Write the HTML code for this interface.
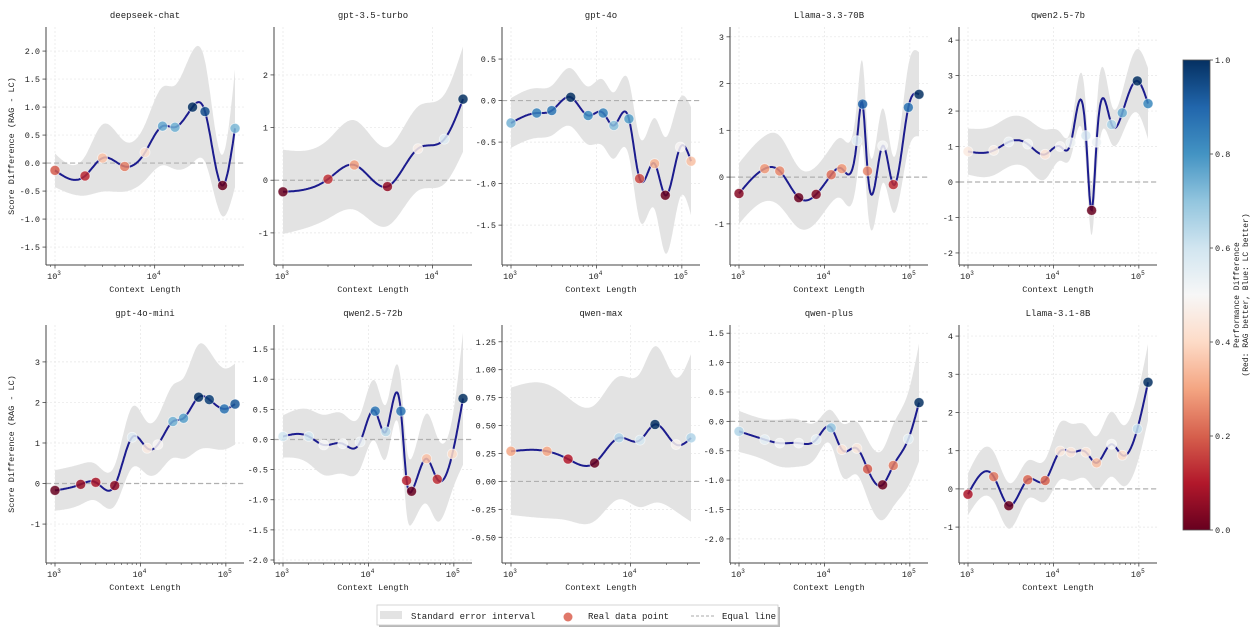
<!DOCTYPE html>
<html><head><meta charset="utf-8">
<style>
html,body{margin:0;padding:0;background:#fff;}
svg{display:block;font-family:"Liberation Mono","WenQuanYi Zen Hei",monospace;}
</style></head>
<body>
<svg id="chart" width="1251" height="637" viewBox="0 0 1251 637" xmlns="http://www.w3.org/2000/svg">
<defs>
<linearGradient id="rdbu" x1="0" y1="1" x2="0" y2="0">
<stop offset="0" stop-color="#67001f"/><stop offset="0.1" stop-color="#b2182b"/><stop offset="0.2" stop-color="#d6604d"/><stop offset="0.3" stop-color="#f4a582"/><stop offset="0.4" stop-color="#fddbc7"/><stop offset="0.5" stop-color="#f7f7f7"/><stop offset="0.6" stop-color="#d1e5f0"/><stop offset="0.7" stop-color="#92c5de"/><stop offset="0.8" stop-color="#4393c3"/><stop offset="0.9" stop-color="#2166ac"/><stop offset="1" stop-color="#053061"/>
</linearGradient>
</defs>
<g id="panels"></g>
<g>
<rect x="1183" y="60" width="27" height="470" fill="url(#rdbu)" stroke="#555" stroke-width="0.8"/>
</g>
<g id="cbticks"></g>
<text transform="translate(1239,295) rotate(-90)" text-anchor="middle" font-size="8" fill="#222">Performance Difference</text>
<text transform="translate(1248,295) rotate(-90)" text-anchor="middle" font-size="8" fill="#222">(Red: RAG better, Blue: LC better)</text>
<g>
<rect x="379" y="607" width="401" height="20" fill="#888" opacity="0.6"/>
<rect x="377" y="605" width="401" height="20" fill="#fff" stroke="#ccc" stroke-width="0.8"/>
<rect x="380" y="611" width="22" height="8" fill="#e3e3e3"/>
<text x="411" y="619" font-size="9" fill="#222">Standard error interval</text>
<circle cx="568" cy="617" r="4.5" fill="#e0786a"/>
<text x="588" y="619" font-size="9" fill="#222">Real data point</text>
<line x1="691" y1="616" x2="714" y2="616" stroke="#aaa" stroke-dasharray="3,2"/>
<text x="722" y="619" font-size="9" fill="#222">Equal line</text>
</g>
</svg>
<script>
// ---- data ----
const deepseekX = [1000,2000,3000,5000,8000,12000,16000,24000,32000,48000,64000];
const deepseekY = [-0.13,-0.23,0.09,-0.06,0.19,0.66,0.64,1.0,0.92,-0.4,0.62];
const deepseekErr = [0.3,0.35,0.6,0.45,0.5,0.7,0.75,1.0,0.9,0.55,1.05];

const gpt35X = [1000,2000,3000,5000,8000,12000,16000];
const gpt35Y = [-0.22,0.02,0.29,-0.12,0.6,0.78,1.54];
const gpt35Err = [0.8,0.75,0.85,0.75,0.8,0.85,1.0];

const gpt4oX = [1000,2000,3000,5000,8000,12000,16000,24000,32000,48000,64000,96000,128000];
const gpt4oY = [-0.27,-0.15,-0.12,0.04,-0.18,-0.15,-0.30,-0.22,-0.94,-0.76,-1.14,-0.56,-0.73];
const gpt4oErr = [0.3,0.3,0.3,0.35,0.35,0.4,0.4,0.45,0.5,0.55,0.7,0.6,0.65];

const llama70X = [1000,2000,3000,5000,8000,12000,16000,24000,28000,32000,48000,64000,96000,128000];
const llama70Y = [-0.35,0.18,0.13,-0.44,-0.37,0.05,0.18,0.78,1.56,0.13,0.67,-0.16,1.49,1.77];
const llama70Err = [0.65,0.7,0.75,0.65,0.6,0.6,0.65,0.8,0.9,0.8,0.8,0.6,0.9,0.9];

const qwen7X = [1000,2000,3000,5000,8000,12000,16000,24000,28000,32000,48000,64000,96000,128000];
const qwen7Y = [0.86,0.89,1.13,1.07,0.78,1.0,1.11,1.31,-0.80,1.12,1.62,1.95,2.85,2.21];
const qwen7Err = [0.65,0.7,0.7,0.7,0.7,0.4,0.4,0.8,0.7,0.9,0.55,0.6,0.9,1.0];

const miniX = [1000,2000,3000,5000,8000,12000,16000,24000,32000,48000,64000,96000,128000];
const miniY = [-0.17,-0.02,0.03,-0.05,1.14,0.87,0.96,1.53,1.61,2.13,2.07,1.84,1.96];
const miniErr = [0.5,0.5,0.45,0.5,0.75,0.65,0.7,0.9,1.0,1.3,1.2,1.0,1.0];

const qwen72X = [1000,2000,3000,5000,8000,12000,16000,24000,28000,32000,48000,64000,96000,128000];
const qwen72Y = [0.05,0.05,-0.09,-0.07,-0.04,0.47,0.13,0.47,-0.68,-0.86,-0.32,-0.66,-0.24,0.68];
const qwen72Err = [0.35,0.45,0.5,0.5,0.45,0.5,0.45,0.5,0.55,0.55,0.75,0.7,0.6,1.1];

const qmaxX = [1000,2000,3000,5000,8000,12000,16000,24000,32000];
const qmaxY = [0.27,0.27,0.20,0.165,0.39,0.37,0.51,0.33,0.39];
const qmaxErr = [0.57,0.6,0.55,0.52,0.55,0.6,0.7,0.6,0.75];

const qplusX = [1000,2000,3000,5000,8000,12000,16000,24000,32000,48000,64000,96000,128000];
const qplusY = [-0.17,-0.31,-0.37,-0.37,-0.31,-0.11,-0.48,-0.46,-0.81,-1.08,-0.75,-0.30,0.32];
const qplusErr = [0.35,0.35,0.4,0.4,0.3,0.3,0.45,0.45,0.5,0.6,0.7,0.8,1.0];

const llama8X = [1000,2000,3000,5000,8000,12000,16000,24000,32000,48000,64000,96000,128000];
const llama8Y = [-0.14,0.32,-0.44,0.24,0.22,0.99,0.96,0.96,0.68,1.17,0.88,1.57,2.79];
const llama8Err = [0.55,0.65,0.6,0.5,0.55,0.75,0.75,0.7,0.7,0.85,0.8,0.9,1.0];

const panelTitles = ["deepseek-chat","gpt-3.5-turbo","gpt-4o","Llama-3.3-70B","qwen2.5-7b","gpt-4o-mini","qwen2.5-72b","qwen-max","qwen-plus","Llama-3.1-8B"];
const yTickSets = [
  [-1.5,-1.0,-0.5,0.0,0.5,1.0,1.5,2.0],[-1,0,1,2],[-1.5,-1.0,-0.5,0.0,0.5],[-1,0,1,2,3],[-2,-1,0,1,2,3,4],
  [-1,0,1,2,3],[-2.0,-1.5,-1.0,-0.5,0.0,0.5,1.0,1.5],[-0.5,-0.25,0,0.25,0.5,0.75,1.0,1.25],[-2.0,-1.5,-1.0,-0.5,0.0,0.5,1.0,1.5],[-1,0,1,2,3,4]
];
const yTickDecimals = [1,0,1,0,0,0,1,2,1,0];
const yRanges = [[-1.82,2.43],[-1.61,2.91],[-1.98,0.886],[-1.88,3.21],[-2.34,4.37],[-1.96,3.91],[-2.05,1.9],[-0.73,1.40],[-2.41,1.64],[-1.94,4.29]];
const cbTicks = [0.0,0.2,0.4,0.6,0.8,1.0];

const seriesX = [deepseekX,gpt35X,gpt4oX,llama70X,qwen7X,miniX,qwen72X,qmaxX,qplusX,llama8X];
const seriesY = [deepseekY,gpt35Y,gpt4oY,llama70Y,qwen7Y,miniY,qwen72Y,qmaxY,qplusY,llama8Y];
const seriesErr = [deepseekErr,gpt35Err,gpt4oErr,llama70Err,qwen7Err,miniErr,qwen72Err,qmaxErr,qplusErr,llama8Err];

// ---- helpers ----
const NS = "http://www.w3.org/2000/svg";
function mk(tag, attrs, parent){ const e=document.createElementNS(NS,tag); for(const k in attrs) e.setAttribute(k,attrs[k]); if(parent) parent.appendChild(e); return e; }
const stops=[[0,"#67001f"],[0.1,"#b2182b"],[0.2,"#d6604d"],[0.3,"#f4a582"],[0.4,"#fddbc7"],[0.5,"#f7f7f7"],[0.6,"#d1e5f0"],[0.7,"#92c5de"],[0.8,"#4393c3"],[0.9,"#2166ac"],[1,"#053061"]];
function hex(h){return [parseInt(h.substr(1,2),16),parseInt(h.substr(3,2),16),parseInt(h.substr(5,2),16)];}
function rdbu(t){ t=Math.max(0,Math.min(1,t)); for(let i=0;i<stops.length-1;i++){ if(t<=stops[i+1][0]){ const f=(t-stops[i][0])/(stops[i+1][0]-stops[i][0]); const a=hex(stops[i][1]),b=hex(stops[i+1][1]); return "rgb("+a.map((v,j)=>Math.round(v+(b[j]-v)*f)).join(",")+")"; } } return stops[10][1]; }
function spline(xs, ys){
  const n=xs.length; const h=[],al=[],l=[1],mu=[0],z=[0],c=new Array(n).fill(0),b=[],d=[];
  for(let i=0;i<n-1;i++) h.push(xs[i+1]-xs[i]);
  for(let i=1;i<n-1;i++) al[i]=3/h[i]*(ys[i+1]-ys[i])-3/h[i-1]*(ys[i]-ys[i-1]);
  for(let i=1;i<n-1;i++){ l[i]=2*(xs[i+1]-xs[i-1])-h[i-1]*mu[i-1]; mu[i]=h[i]/l[i]; z[i]=(al[i]-h[i-1]*z[i-1])/l[i]; }
  l[n-1]=1; z[n-1]=0;
  for(let j=n-2;j>=0;j--){ c[j]=z[j]-mu[j]*c[j+1]; b[j]=(ys[j+1]-ys[j])/h[j]-h[j]*(c[j+1]+2*c[j])/3; d[j]=(c[j+1]-c[j])/(3*h[j]); }
  return function(x){ let i=0; while(i<n-2 && x>xs[i+1]) i++; const dx=x-xs[i]; return ys[i]+b[i]*dx+c[i]*dx*dx+d[i]*dx*dx*dx; };
}

const panelsG = document.getElementById("panels");
const lefts=[46,274,502,730,959], W=198;
const tops=[27,325], bottoms=[265,563];

for(let p=0;p<10;p++){
  const col=p%5,row=Math.floor(p/5);
  const L=lefts[col], T=tops[row], B=bottoms[row], R=L+W;
  const xs=seriesX[p].map(v=>Math.log10(v)), ys=seriesY[p], es=seriesErr[p];
  const lx=xs[xs.length-1], pad=0.05*(lx-3);
  const x0=3-pad, x1=lx+pad;
  const [y0,y1]=yRanges[p];
  const sx=v=>L+(v-x0)/(x1-x0)*W;
  const sy=v=>B-(v-y0)/(y1-y0)*(B-T);
  const g=mk("g",{},panelsG);
  
  
  const grid=mk("g",{},g);
  
  
  yTickSets[p].forEach(t=>mk("line",{x1:L,x2:R,y1:sy(t),y2:sy(t),stroke:"#e6e6e6","stroke-width":0.7,"stroke-dasharray":"2,2"},grid));
  for(let dec=3;dec<=5;dec++) if(dec>=x0&&dec<=x1) mk("line",{x1:sx(dec),x2:sx(dec),y1:T,y2:B,stroke:"#e6e6e6","stroke-width":0.7,"stroke-dasharray":"2,2"},grid);
  const fy=spline(xs,ys), fe=spline(xs,es);
  const N=240; let up=[],dn=[],line=[];
  for(let i=0;i<=N;i++){ const x=xs[0]+(lx-xs[0])*i/N; const y=fy(x), e=Math.max(0.08,fe(x)); up.push(sx(x).toFixed(1)+","+sy(y+e).toFixed(1)); dn.push(sx(x).toFixed(1)+","+sy(y-e).toFixed(1)); line.push(sx(x).toFixed(1)+","+sy(y).toFixed(1)); }
  const band=mk("polygon",{points:up.concat(dn.reverse()).join(" "),fill:"#e3e3e3"},g);
  
  
  const eq=mk("line",{x1:L,x2:R,y1:sy(0),y2:sy(0),stroke:"#b0b0b0","stroke-width":1.2,"stroke-dasharray":"5,3"},g);
  
  
  const pl=mk("polyline",{points:line.join(" "),fill:"none",stroke:"#1c1c8e","stroke-width":2},g);
  
  
  const mn=Math.min(...ys), mx=Math.max(...ys);
  xs.forEach((x,i)=>{
    const c=mk("circle",{cx:sx(x),cy:sy(ys[i]),r:5,fill:rdbu((ys[i]-mn)/(mx-mn)),"fill-opacity":0.85,stroke:"#fff","stroke-width":0.8,"stroke-opacity":0.6},g);
    
    
  });
  const ax=mk("g",{},g);
  
  
  mk("line",{x1:L,x2:L,y1:T,y2:B,stroke:"#444","stroke-width":1},ax);
  mk("line",{x1:L,x2:R,y1:B,y2:B,stroke:"#444","stroke-width":1},ax);
  yTickSets[p].forEach(t=>{
    mk("line",{x1:L-3.5,x2:L,y1:sy(t),y2:sy(t),stroke:"#444","stroke-width":0.8},ax);
    const tx=mk("text",{x:L-6,y:sy(t)+3,"text-anchor":"end","font-size":8.5,fill:"#222"},ax);
    tx.textContent=t.toFixed(yTickDecimals[p]);
    
    
  });
  for(let dec=2;dec<=5;dec++){
    for(let m=1;m<=9;m++){
      const v=dec+Math.log10(m); if(v<x0||v>x1) continue;
      mk("line",{x1:sx(v),x2:sx(v),y1:B,y2:B+(m===1?3.5:2),stroke:"#444","stroke-width":m===1?0.8:0.6},ax);
      if(m===1){
        const tx=mk("text",{x:sx(v)-1,y:B+14,"text-anchor":"middle","font-size":8.5,fill:"#222"},ax);
        
        
        tx.appendChild(document.createTextNode("10"));
        const sp=mk("tspan",{dy:-4,"font-size":6},tx); sp.textContent=String(dec);
      }
    }
  }
  const xl=mk("text",{x:(L+R)/2,y:B+27,"text-anchor":"middle","font-size":8.5,fill:"#222"},g);
  xl.textContent="Context Length";
  
  
  const tl=mk("text",{x:(L+R)/2,y:T-9,"text-anchor":"middle","font-size":9,fill:"#222"},g);
  tl.textContent=panelTitles[p];
  
  
  if(col===0){
    const yl=mk("text",{transform:"translate("+(L-32)+","+((T+B)/2)+") rotate(-90)","text-anchor":"middle","font-size":8.5,fill:"#222"},g);
    yl.textContent="Score Difference (RAG - LC)";
    
    
  }
}
const cbg=document.getElementById("cbticks");
cbTicks.forEach(t=>{
  const y=530-t*470;
  mk("line",{x1:1210,x2:1213,y1:y,y2:y,stroke:"#444","stroke-width":0.8},cbg);
  const tx=mk("text",{x:1215,y:y+3,"font-size":8.5,fill:"#222"},cbg);
  tx.textContent=t.toFixed(1);
  
  
});
</script>
</body></html>
